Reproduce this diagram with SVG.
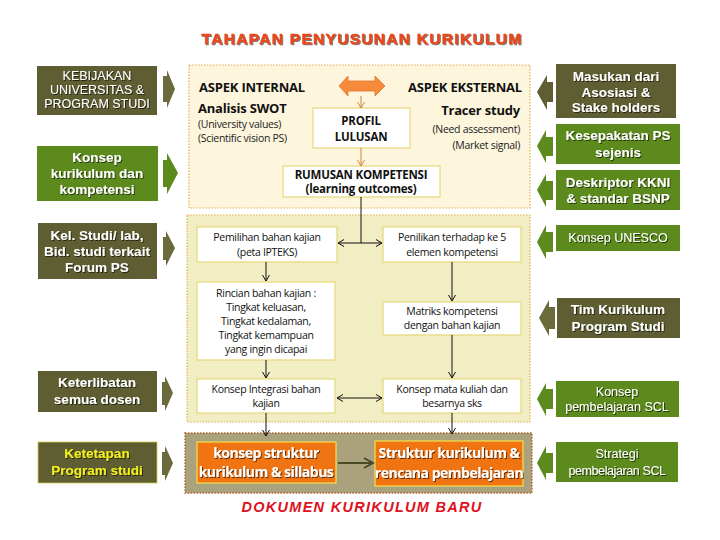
<svg xmlns="http://www.w3.org/2000/svg" width="720" height="540" viewBox="0 0 720 540">
<defs>
<style>
.bg{fill:#ffffff}
.olive{fill:#5E5E32}
.green{fill:#5C8A1C}
.side{font-family:"Liberation Sans",Arial,sans-serif;font-weight:bold;font-size:13.5px;fill:#ffffff;text-anchor:middle}
.sideN{font-family:"Liberation Sans",Arial,sans-serif;font-size:12.5px;fill:#ffffff;text-anchor:middle}
.inner{font-family:"Open Sans","Liberation Sans",sans-serif;font-size:10.5px;fill:#111;text-anchor:middle;letter-spacing:-0.3px}
.innerB{font-family:"Open Sans","Liberation Sans",sans-serif;font-size:11.5px;font-weight:bold;fill:#111;text-anchor:middle;letter-spacing:-0.2px}
.head{font-family:"Open Sans","Liberation Sans",sans-serif;font-size:13px;font-weight:bold;fill:#111;letter-spacing:-0.2px}
.small{font-family:"Open Sans","Liberation Sans",sans-serif;font-size:10.5px;fill:#222;letter-spacing:-0.3px}
.wbox{fill:#ffffff;stroke:#E6D77A;stroke-width:1.2}
.obox{fill:#F07412;stroke:#F5E04A;stroke-width:1.2}
.otext{font-family:"Open Sans","Liberation Sans",sans-serif;font-size:14px;font-weight:bold;fill:#ffffff;text-anchor:middle;letter-spacing:-0.5px}
.conn{stroke:#111;stroke-width:1;fill:none}
.connO{stroke:#D0823A;stroke-width:1;fill:none}
</style>
<marker id="ah" markerWidth="8" markerHeight="8" refX="7" refY="4" orient="auto" markerUnits="userSpaceOnUse">
<path d="M1,0.5 L7,4 L1,7.5" fill="none" stroke="#111" stroke-width="1"/>
</marker>
<marker id="ahO" markerWidth="8" markerHeight="8" refX="7" refY="4" orient="auto" markerUnits="userSpaceOnUse">
<path d="M1,0.5 L7,4 L1,7.5" fill="none" stroke="#D0823A" stroke-width="1"/>
</marker>
<marker id="ahB" markerWidth="12" markerHeight="12" refX="10" refY="6" orient="auto" markerUnits="userSpaceOnUse">
<path d="M1,1 L10,6 L1,11" fill="none" stroke="#4A4A28" stroke-width="2"/>
</marker>
<filter id="sh" x="-10%" y="-10%" width="120%" height="130%">
<feDropShadow dx="1" dy="1" stdDeviation="0.4" flood-color="#000" flood-opacity="0.6"/>
</filter>
</defs>
<rect class="bg" x="0" y="0" width="720" height="540"/>

<text x="362" y="44" font-family="'Liberation Sans',Arial,sans-serif" font-weight="bold" font-size="15.5" fill="#E8481C" text-anchor="middle" letter-spacing="1.3" stroke="#E8481C" stroke-width="0.5" filter="url(#sh)">TAHAPAN PENYUSUNAN  KURIKULUM</text>

<!-- containers -->
<g id="panel-top">
<rect x="189" y="65" width="341" height="143" fill="#FDF6DD" stroke="#E3AC5A" stroke-width="1.2" stroke-dasharray="1.5,1.5"/>
</g>
<g id="panel-mid">
<rect x="187" y="215" width="343" height="207" fill="#F2EEC3" stroke="#E0AF52" stroke-width="1.2" stroke-dasharray="1.5,1.5"/>
</g>
<g id="panel-bottom">
<rect x="185" y="433" width="347" height="60" fill="#A9A27D" stroke="#B8672E" stroke-width="1.4" stroke-dasharray="1.5,1.5"/>
</g>

<!-- top panel contents -->
<g id="aspek-internal">
<text class="head" x="199" y="92">ASPEK INTERNAL</text>
<text class="head" x="198" y="113" font-size="12">Analisis SWOT</text>
<text class="small" x="198" y="128">(University values)</text>
<text class="small" x="198" y="142" font-size="10">(Scientific vision PS)</text>
</g>
<g id="aspek-eksternal">
<text class="head" x="522" y="92" text-anchor="end">ASPEK EKSTERNAL</text>
<text class="head" x="520" y="115" text-anchor="end">Tracer study</text>
<text class="small" x="520" y="133" text-anchor="end" font-size="12">(Need assessment)</text>
<text class="small" x="520" y="149" text-anchor="end" font-size="12">(Market signal)</text>
</g>
<g id="double-arrow">
<polygon points="339,86 348,76 348,81 375,81 375,76 385,86 375,96 375,91 348,91 348,96" fill="#F58A3A" stroke="#E8762A" stroke-width="0.8"/>
</g>
<g id="profil">
<rect class="wbox" x="313" y="108" width="97" height="40"/>
<text class="innerB" x="361" y="125">PROFIL</text>
<text class="innerB" x="361" y="141">LULUSAN</text>
</g>
<g id="rumusan">
<rect class="wbox" x="283" y="166" width="157" height="31"/>
<text class="innerB" x="361" y="179">RUMUSAN KOMPETENSI</text>
<text class="innerB" x="361" y="193">(learning outcomes)</text>
</g>

<!-- middle panel nodes -->
<g id="pemilihan">
<rect class="wbox" x="197" y="227" width="140" height="35"/>
<text class="inner" x="267" y="241">Pemilihan bahan kajian</text>
<text class="inner" x="267" y="256">(peta IPTEKS)</text>
</g>
<g id="penilikan">
<rect class="wbox" x="383" y="227" width="138" height="35"/>
<text class="inner" x="452" y="241">Penilikan terhadap ke 5</text>
<text class="inner" x="452" y="256">elemen kompetensi</text>
</g>
<g id="rincian">
<rect class="wbox" x="197" y="282" width="138" height="78"/>
<text class="inner" x="266" y="297">Rincian bahan kajian :</text>
<text class="inner" x="266" y="311">Tingkat keluasan,</text>
<text class="inner" x="266" y="325">Tingkat kedalaman,</text>
<text class="inner" x="266" y="339">Tingkat kemampuan</text>
<text class="inner" x="266" y="353">yang ingin  dicapai</text>
</g>
<g id="matriks">
<rect class="wbox" x="383" y="302" width="138" height="33"/>
<text class="inner" x="452" y="315">Matriks kompetensi</text>
<text class="inner" x="452" y="329">dengan bahan kajian</text>
</g>
<g id="integrasi">
<rect class="wbox" x="197" y="379" width="138" height="34"/>
<text class="inner" x="266" y="393">Konsep Integrasi bahan</text>
<text class="inner" x="266" y="407">kajian</text>
</g>
<g id="matakuliah">
<rect class="wbox" x="383" y="379" width="138" height="34"/>
<text class="inner" x="452" y="393">Konsep mata kuliah  dan</text>
<text class="inner" x="452" y="407">besarnya sks</text>
</g>

<!-- bottom panel nodes -->
<g id="konsep-struktur">
<rect class="obox" x="197" y="442" width="139" height="41"/>
<text class="otext" x="266" y="458" filter="url(#sh)">konsep struktur</text>
<text class="otext" x="266" y="477" filter="url(#sh)">kurikulum &amp; sillabus</text>
</g>
<g id="struktur-kurikulum">
<rect class="obox" x="375" y="441" width="148" height="45"/>
<text class="otext" x="449" y="458" filter="url(#sh)">Struktur kurikulum &amp;</text>
<text class="otext" x="449" y="478" filter="url(#sh)">rencana pembelajaran</text>
</g>

<text x="362" y="512" font-family="'Liberation Sans',Arial,sans-serif" font-weight="bold" font-style="italic" font-size="14.5" fill="#E01020" text-anchor="middle" letter-spacing="1.3">DOKUMEN KURIKULUM BARU</text>

<!-- left side nodes -->
<g id="kebijakan">
<rect class="olive" x="37" y="66" width="120" height="49"/>
<text class="sideN" x="97" y="80" filter="url(#sh)">KEBIJAKAN</text>
<text class="sideN" x="97" y="94" filter="url(#sh)">UNIVERSITAS &amp;</text>
<text class="sideN" x="97" y="108" filter="url(#sh)">PROGRAM STUDI</text>
<polygon points="163,76 167,76 167,70 175,89 167,108 167,102 163,102" fill="#6B6A3C"/>
</g>
<g id="konsep-kurikulum">
<rect class="green" x="37" y="146" width="121" height="55"/>
<text class="side" x="97" y="162" filter="url(#sh)">Konsep</text>
<text class="side" x="97" y="178" filter="url(#sh)">kurikulum  dan</text>
<text class="side" x="97" y="194" filter="url(#sh)">kompetensi</text>
<polygon points="163,160 167,160 167,153 178,173 167,194 167,187 163,187" fill="#5C8A1C"/>
</g>
<g id="kel-studi">
<rect class="olive" x="38" y="223" width="119" height="56"/>
<text class="side" x="97" y="240" filter="url(#sh)">Kel. Studi/ lab,</text>
<text class="side" x="97" y="256" filter="url(#sh)">Bid. studi terkait</text>
<text class="side" x="97" y="272" filter="url(#sh)">Forum PS</text>
<polygon points="163,237 166,237 166,231 175,248 166,266 166,260 163,260" fill="#6B6A3C"/>
</g>
<g id="keterlibatan">
<rect class="olive" x="38" y="371" width="119" height="41"/>
<text class="side" x="97" y="387" filter="url(#sh)">Keterlibatan</text>
<text class="side" x="97" y="404" filter="url(#sh)">semua dosen</text>
<polygon points="162,382 165,382 165,376 173,393 165,411 165,405 162,405" fill="#6B6A3C"/>
</g>
<g id="ketetapan">
<rect class="olive" x="38" y="442" width="119" height="41" stroke="#D8C84A" stroke-width="0.8"/>
<text class="side" x="97" y="458" style="fill:#F2F020" filter="url(#sh)">Ketetapan</text>
<text class="side" x="97" y="475" style="fill:#F2F020" filter="url(#sh)">Program studi</text>
<polygon points="162,452 165,452 165,446 173,463 165,481 165,475 162,475" fill="#6B6A3C"/>
</g>

<!-- right side nodes -->
<g id="masukan">
<rect class="olive" x="556" y="64" width="120" height="54"/>
<text class="side" x="616" y="81" filter="url(#sh)">Masukan dari</text>
<text class="side" x="616" y="97" filter="url(#sh)">Asosiasi  &amp;</text>
<text class="side" x="616" y="112" filter="url(#sh)">Stake holders</text>
<polygon points="553,82 547,82 547,75 537,92 547,110 547,102 553,102" fill="#5E5E32"/>
</g>
<g id="kesepakatan">
<rect class="green" x="556" y="124" width="124" height="40"/>
<text class="side" x="618" y="140" filter="url(#sh)">Kesepakatan PS</text>
<text class="side" x="618" y="157" filter="url(#sh)">sejenis</text>
<polygon points="553,137 546,137 546,130 537,146 546,163 546,156 553,156" fill="#5C8A1C"/>
</g>
<g id="deskriptor">
<rect class="green" x="556" y="170" width="124" height="40"/>
<text class="side" x="618" y="187" filter="url(#sh)">Deskriptor KKNI</text>
<text class="side" x="618" y="203" filter="url(#sh)">&amp; standar BSNP</text>
<polygon points="553,181 546,181 546,174 537,190 546,207 546,200 553,200" fill="#5C8A1C"/>
</g>
<g id="unesco">
<rect class="green" x="556" y="225" width="124" height="26"/>
<text class="sideN" x="618" y="242" filter="url(#sh)">Konsep UNESCO</text>
<polygon points="553,232 546,232 546,225 537,242 546,259 546,252 553,252" fill="#5C8A1C"/>
</g>
<g id="tim-kurikulum">
<rect class="olive" x="557" y="298" width="123" height="40"/>
<text class="side" x="618" y="314" filter="url(#sh)">Tim Kurikulum</text>
<text class="side" x="618" y="331" filter="url(#sh)">Program  Studi</text>
<polygon points="555,307 549,307 549,300 539,318 549,336 549,329 555,329" fill="#6B6A3C"/>
</g>
<g id="konsep-scl">
<rect class="green" x="556" y="381" width="123" height="36"/>
<text class="sideN" x="617" y="396" filter="url(#sh)">Konsep</text>
<text class="sideN" x="617" y="411" filter="url(#sh)">pembelajaran SCL</text>
<polygon points="553,389 546,389 546,383 537,399 546,416 546,409 553,409" fill="#5C8A1C"/>
</g>
<g id="strategi-scl">
<rect class="green" x="556" y="442" width="122" height="40"/>
<text class="sideN" x="617" y="458" filter="url(#sh)">Strategi</text>
<text class="sideN" x="617" y="475" filter="url(#sh)" letter-spacing="-0.4">pembelajaran SCL</text>
<polygon points="553,453 546,453 546,446 537,463 546,480 546,473 553,473" fill="#5C8A1C"/>
</g>

<!-- connectors -->
<g id="connectors">
<line class="connO" x1="361" y1="96" x2="361" y2="108" marker-end="url(#ahO)"/>
<line class="connO" x1="361" y1="148" x2="361" y2="166" marker-end="url(#ahO)"/>
<line class="conn" x1="361" y1="197" x2="361" y2="243"/>
<line class="conn" x1="361" y1="243" x2="338" y2="243" marker-end="url(#ah)"/>
<line class="conn" x1="361" y1="243" x2="382" y2="243" marker-end="url(#ah)"/>
<line class="conn" x1="266" y1="262" x2="266" y2="281" marker-end="url(#ah)"/>
<line class="conn" x1="452" y1="262" x2="452" y2="301" marker-end="url(#ah)"/>
<line class="conn" x1="266" y1="360" x2="266" y2="378" marker-end="url(#ah)"/>
<line class="conn" x1="452" y1="335" x2="452" y2="378" marker-end="url(#ah)"/>
<line class="conn" x1="360" y1="398" x2="382" y2="398" marker-end="url(#ah)"/>
<line class="conn" x1="360" y1="398" x2="337" y2="398" marker-end="url(#ah)"/>
<line class="conn" x1="266" y1="413" x2="266" y2="436" marker-end="url(#ah)"/>
<line class="conn" x1="452" y1="413" x2="452" y2="434" marker-end="url(#ah)"/>
<line x1="338" y1="463" x2="373" y2="463" stroke="#4A4A28" stroke-width="2" marker-end="url(#ahB)"/>
</g>
</svg>
